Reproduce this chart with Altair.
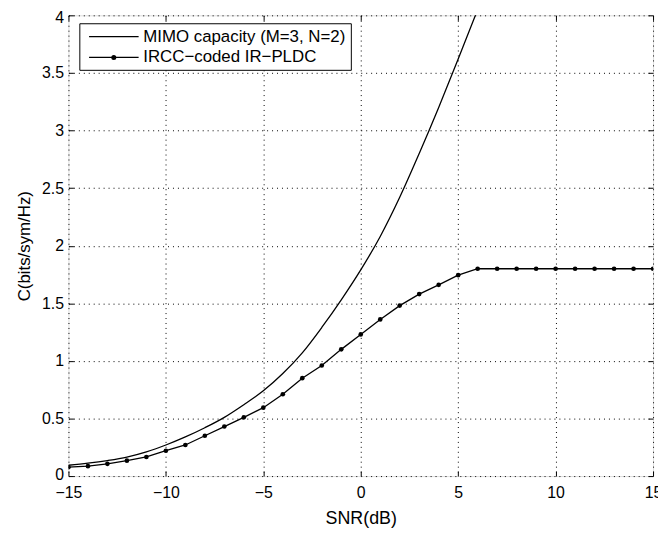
import altair as alt
import pandas as pd

# ---- data ----
snr_mimo = [-15, -14, -13, -12, -11, -10, -9, -8, -7, -6, -5, -4, -3, -2, -1,
            0, 1, 2, 3, 4, 5, 6]
cap_mimo = [0.094, 0.112, 0.135, 0.165, 0.21, 0.27, 0.34, 0.42, 0.51, 0.62,
            0.74, 0.89, 1.07, 1.29, 1.53, 1.79, 2.08, 2.42, 2.80, 3.20, 3.62, 4.05]

snr_ircc = [-15, -14, -13, -12, -11, -10, -9, -8, -7, -6, -5, -4, -3, -2, -1,
            0, 1, 2, 3, 4, 5, 6, 7, 8, 9, 10, 11, 12, 13, 14, 15]
cap_ircc = [0.077, 0.086, 0.106, 0.134, 0.166, 0.22, 0.27, 0.35, 0.43, 0.51,
            0.594, 0.71, 0.85, 0.96, 1.10, 1.23, 1.36, 1.48, 1.58, 1.66, 1.744,
            1.80, 1.80, 1.80, 1.80, 1.80, 1.80, 1.80, 1.80, 1.80, 1.80]

series_names = ["MIMO capacity (M=3, N=2)", "IRCC\u2212coded IR\u2212PLDC"]
x_ticks = [-15, -10, -5, 0, 5, 10, 15]
y_ticks = [0, 0.5, 1, 1.5, 2, 2.5, 3, 3.5, 4]

FONT = "Liberation Sans"

mimo = pd.DataFrame({"snr": snr_mimo, "cap": cap_mimo, "series": series_names[0]})
ircc = pd.DataFrame({"snr": snr_ircc, "cap": cap_ircc, "series": series_names[1]})

xscale = alt.Scale(domain=[-15, 15], nice=False, zero=False)
yscale = alt.Scale(domain=[0, 4], nice=False, zero=True)

GRID = dict(grid=True, gridDash=[1, 4], gridColor="black", gridOpacity=1,
            gridWidth=1, ticks=False, labels=False, domain=False, title=None)
x_grid = alt.Axis(orient="bottom", values=x_ticks, **GRID)
y_grid = alt.Axis(orient="left", values=y_ticks, **GRID)

x_main = alt.Axis(orient="bottom", values=x_ticks, grid=False, domain=False,
                  offset=-5, tickSize=5, tickColor="black", tickWidth=1,
                  labelFlush=False, labelOverlap=False,
                  labelPadding=9, labelFont=FONT, labelFontSize=16,
                  labelColor="black", title="SNR(dB)", titleFont=FONT,
                  titleFontSize=18, titleFontWeight="normal", titleColor="black",
                  titlePadding=9)
y_main = alt.Axis(orient="left", values=y_ticks, format="~g", grid=False,
                  domain=False, offset=-5, tickSize=5, tickColor="black",
                  tickWidth=1, labelFlush=True, labelFlushOffset=6,
                  labelOverlap=False, labelPadding=5, labelFont=FONT,
                  labelFontSize=16, labelColor="black", title="C(bits/sym/Hz)",
                  titleFont=FONT, titleFontSize=17, titleFontWeight="normal",
                  titleColor="black", titlePadding=8)

x_top = alt.Axis(orient="top", values=x_ticks, grid=False, domain=False,
                 offset=-5, tickSize=5, tickColor="black", tickWidth=1,
                 labels=False, title=None)
y_right = alt.Axis(orient="right", values=y_ticks, grid=False, domain=False,
                   offset=-5, tickSize=5, tickColor="black", tickWidth=1,
                   labels=False, title=None)

line_mimo = alt.Chart(mimo).mark_line(color="black", strokeWidth=1.3,
                                      interpolate="monotone", clip=True).encode(
    x=alt.X("snr:Q", scale=xscale, axis=x_grid),
    y=alt.Y("cap:Q", scale=yscale, axis=y_grid),
)

line_ircc = alt.Chart(ircc).mark_line(color="black", strokeWidth=1.3, clip=True).encode(
    x=alt.X("snr:Q", scale=xscale, axis=x_main),
    y=alt.Y("cap:Q", scale=yscale, axis=y_main),
)

pts_ircc = alt.Chart(ircc).mark_circle(color="black", size=22, opacity=1,
                                       clip=True).encode(
    x=alt.X("snr:Q", scale=xscale, axis=x_top),
    y=alt.Y("cap:Q", scale=yscale, axis=y_right),
)

# legend layer: draws no marks, only carries the legend (explicit domain).
# symbol paths are in units of 8 px (symbolSize 256 -> sqrt/2 = 8)
path_line = "M-0.46,0L5.79,0"
path_line_dot = ("M-0.46,0L5.79,0"
                 "M2.4225,0A0.2375,0.2375,0,1,0,2.8975,0A0.2375,0.2375,0,1,0,2.4225,0"
                 "M2.5725,0A0.0875,0.0875,0,1,0,2.7475,0A0.0875,0.0875,0,1,0,2.5725,0")
legend_layer = alt.Chart(ircc).transform_filter("false").mark_point(
    color="black", filled=False, strokeWidth=1.3).encode(
    x=alt.X("snr:Q", scale=xscale, axis=None),
    y=alt.Y("cap:Q", scale=yscale, axis=None),
    shape=alt.Shape("series:N",
                    scale=alt.Scale(domain=series_names,
                                    range=[path_line, path_line_dot]),
                    legend=alt.Legend(orient="none", legendX=11, legendY=8,
                                      title=None, strokeColor="black",
                                      fillColor="white", padding=4.5,
                                      symbolSize=256, symbolStrokeWidth=1.3,
                                      symbolStrokeColor="black",
                                      symbolOpacity=1,
                                      labelFont=FONT, labelFontSize=17,
                                      labelColor="black", labelLimit=400,
                                      labelOffset=42, rowPadding=4)),
)

chart = alt.layer(line_mimo, line_ircc, pts_ircc, legend_layer).resolve_axis(
    x="independent", y="independent"
).properties(
    width=590, height=465,
    autosize=alt.AutoSizeParams(type="none"),
    padding={"left": 61, "top": 5, "right": 5, "bottom": 50},
).configure_view(stroke="black", strokeWidth=1).configure(font=FONT)

chart.save("out.html", embed_options={"renderer": "svg", "actions": False})
